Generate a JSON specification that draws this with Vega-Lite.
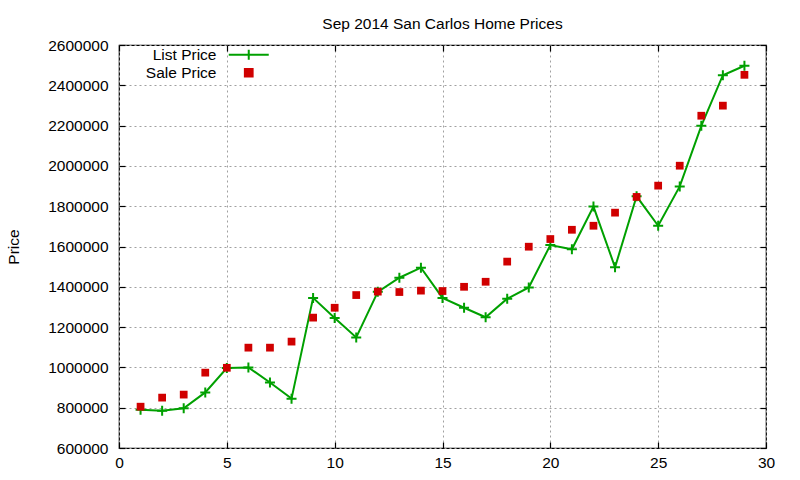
{
  "$schema": "https://vega.github.io/schema/vega-lite/v6.json",
  "width": 647,
  "height": 403,
  "autosize": {"type": "none"},
  "padding": {"left": 119, "top": 45, "right": 34, "bottom": 32},
  "background": "white",
  "title": {
    "text": "Sep 2014 San Carlos Home Prices",
    "font": "Liberation Sans",
    "fontSize": 15.5,
    "fontWeight": "normal",
    "color": "black",
    "anchor": "middle",
    "baseline": "alphabetic",
    "offset": 18,
    "dy": 24
  },
  "config": {
    "view": {"stroke": "black", "strokeWidth": 1.2},
    "font": "Liberation Sans",
    "axis": {
      "labelFont": "Liberation Sans",
      "labelFontSize": 15.5,
      "labelColor": "black",
      "titleFont": "Liberation Sans",
      "titleFontSize": 15.5,
      "titleFontWeight": "normal",
      "titleColor": "black",
      "domain": false,
      "tickColor": "black",
      "tickSize": -6,
      "tickWidth": 1.2,
      "gridColor": "#a0a0a0",
      "gridDash": [2, 3],
      "gridWidth": 1
    }
  },
  "data": {
    "values": [
      {"day": 1, "price": 790000, "series": "List Price"},
      {"day": 2, "price": 785000, "series": "List Price"},
      {"day": 3, "price": 797000, "series": "List Price"},
      {"day": 4, "price": 876000, "series": "List Price"},
      {"day": 5, "price": 997000, "series": "List Price"},
      {"day": 6, "price": 1000000, "series": "List Price"},
      {"day": 7, "price": 925000, "series": "List Price"},
      {"day": 8, "price": 845000, "series": "List Price"},
      {"day": 9, "price": 1345000, "series": "List Price"},
      {"day": 10, "price": 1245000, "series": "List Price"},
      {"day": 11, "price": 1149000, "series": "List Price"},
      {"day": 12, "price": 1375000, "series": "List Price"},
      {"day": 13, "price": 1445000, "series": "List Price"},
      {"day": 14, "price": 1495000, "series": "List Price"},
      {"day": 15, "price": 1345000, "series": "List Price"},
      {"day": 16, "price": 1296000, "series": "List Price"},
      {"day": 17, "price": 1249000, "series": "List Price"},
      {"day": 18, "price": 1341000, "series": "List Price"},
      {"day": 19, "price": 1397000, "series": "List Price"},
      {"day": 20, "price": 1607000, "series": "List Price"},
      {"day": 21, "price": 1586000, "series": "List Price"},
      {"day": 22, "price": 1798000, "series": "List Price"},
      {"day": 23, "price": 1497000, "series": "List Price"},
      {"day": 24, "price": 1849000, "series": "List Price"},
      {"day": 25, "price": 1703000, "series": "List Price"},
      {"day": 26, "price": 1898000, "series": "List Price"},
      {"day": 27, "price": 2199000, "series": "List Price"},
      {"day": 28, "price": 2450000, "series": "List Price"},
      {"day": 29, "price": 2497000, "series": "List Price"},
      {"day": 1, "price": 805000, "series": "Sale Price"},
      {"day": 2, "price": 850000, "series": "Sale Price"},
      {"day": 3, "price": 865000, "series": "Sale Price"},
      {"day": 4, "price": 974000, "series": "Sale Price"},
      {"day": 5, "price": 998000, "series": "Sale Price"},
      {"day": 6, "price": 1098000, "series": "Sale Price"},
      {"day": 7, "price": 1098000, "series": "Sale Price"},
      {"day": 8, "price": 1128000, "series": "Sale Price"},
      {"day": 9, "price": 1247000, "series": "Sale Price"},
      {"day": 10, "price": 1296000, "series": "Sale Price"},
      {"day": 11, "price": 1359000, "series": "Sale Price"},
      {"day": 12, "price": 1376000, "series": "Sale Price"},
      {"day": 13, "price": 1374000, "series": "Sale Price"},
      {"day": 14, "price": 1381000, "series": "Sale Price"},
      {"day": 15, "price": 1379000, "series": "Sale Price"},
      {"day": 16, "price": 1400000, "series": "Sale Price"},
      {"day": 17, "price": 1425000, "series": "Sale Price"},
      {"day": 18, "price": 1525000, "series": "Sale Price"},
      {"day": 19, "price": 1599000, "series": "Sale Price"},
      {"day": 20, "price": 1637000, "series": "Sale Price"},
      {"day": 21, "price": 1683000, "series": "Sale Price"},
      {"day": 22, "price": 1703000, "series": "Sale Price"},
      {"day": 23, "price": 1768000, "series": "Sale Price"},
      {"day": 24, "price": 1846000, "series": "Sale Price"},
      {"day": 25, "price": 1902000, "series": "Sale Price"},
      {"day": 26, "price": 2001000, "series": "Sale Price"},
      {"day": 27, "price": 2249000, "series": "Sale Price"},
      {"day": 28, "price": 2299000, "series": "Sale Price"},
      {"day": 29, "price": 2452000, "series": "Sale Price"}
    ]
  },
  "layer": [
    {
      "transform": [{"filter": "datum.series === 'List Price'"}],
      "mark": {"type": "line", "strokeWidth": 2},
      "encoding": {
        "x": {
          "field": "day",
          "type": "quantitative",
          "scale": {"domain": [0, 30], "nice": false},
          "axis": {
            "orient": "bottom",
            "title": null,
            "values": [0, 5, 10, 15, 20, 25, 30],
            "grid": true,
            "labelFontSize": 15.5,
            "labelFont": "Liberation Sans",
            "labelColor": "black",
            "labelPadding": 13,
            "labelFlush": false
          }
        },
        "y": {
          "field": "price",
          "type": "quantitative",
          "scale": {"domain": [600000, 2600000], "nice": false, "zero": false},
          "axis": {
            "orient": "left",
            "title": "Price",
            "values": [600000, 800000, 1000000, 1200000, 1400000, 1600000, 1800000, 2000000, 2200000, 2400000, 2600000],
            "format": "d",
            "grid": true,
            "labelFontSize": 15.5,
            "labelFont": "Liberation Sans",
            "labelColor": "black",
            "titleFontSize": 15.5,
            "titleFont": "Liberation Sans",
            "titleFontWeight": "normal",
            "titleColor": "black",
            "labelPadding": 17,
            "labelFlush": false,
            "titlePadding": 26
          }
        },
        "color": {
          "field": "series",
          "type": "nominal",
          "scale": {"domain": ["List Price", "Sale Price"], "range": ["#00a000", "#d00000"]},
          "legend": {
            "title": null,
            "orient": "none",
            "legendX": 122,
            "legendY": 2,
            "padding": 0,
            "rowPadding": 0,
            "labelFont": "Liberation Sans",
            "labelFontSize": 15.5,
            "labelColor": "black",
            "labelAlign": "right",
            "labelOffset": -40,
            "encode": {
              "symbols": {
                "update": {
                  "shape": {"signal": "datum.value === 'List Price' ? 'M-4,0H4M0,-1V1' : 'square'"},
                  "size": {"signal": "datum.value === 'List Price' ? 100 : 60"},
                  "fill": {"signal": "datum.value === 'List Price' ? 'transparent' : '#d00000'"},
                  "stroke": {"signal": "datum.value === 'List Price' ? '#00a000' : 'transparent'"},
                  "strokeWidth": {"value": 2},
                  "opacity": {"value": 1}
                }
              }
            }
          }
        }
      }
    },
    {
      "transform": [{"filter": "datum.series === 'List Price'"}],
      "mark": {"type": "point", "shape": "M-1,0H1M0,-1V1", "size": 100, "filled": false, "strokeWidth": 2, "opacity": 1},
      "encoding": {
        "x": {
          "field": "day",
          "type": "quantitative",
          "axis": {"orient": "top", "title": null, "values": [0, 5, 10, 15, 20, 25, 30], "labels": false, "grid": false}
        },
        "y": {
          "field": "price",
          "type": "quantitative",
          "axis": {"orient": "right", "title": null, "values": [600000, 800000, 1000000, 1200000, 1400000, 1600000, 1800000, 2000000, 2200000, 2400000, 2600000], "labels": false, "grid": false}
        },
        "color": {"field": "series", "type": "nominal", "legend": null}
      }
    },
    {
      "transform": [{"filter": "datum.series === 'Sale Price'"}],
      "mark": {"type": "point", "shape": "square", "size": 60, "filled": true, "opacity": 1},
      "encoding": {
        "x": {"field": "day", "type": "quantitative", "axis": null},
        "y": {"field": "price", "type": "quantitative", "axis": null},
        "color": {"field": "series", "type": "nominal", "legend": null}
      }
    }
  ],
  "resolve": {"axis": {"x": "independent", "y": "independent"}}
}
